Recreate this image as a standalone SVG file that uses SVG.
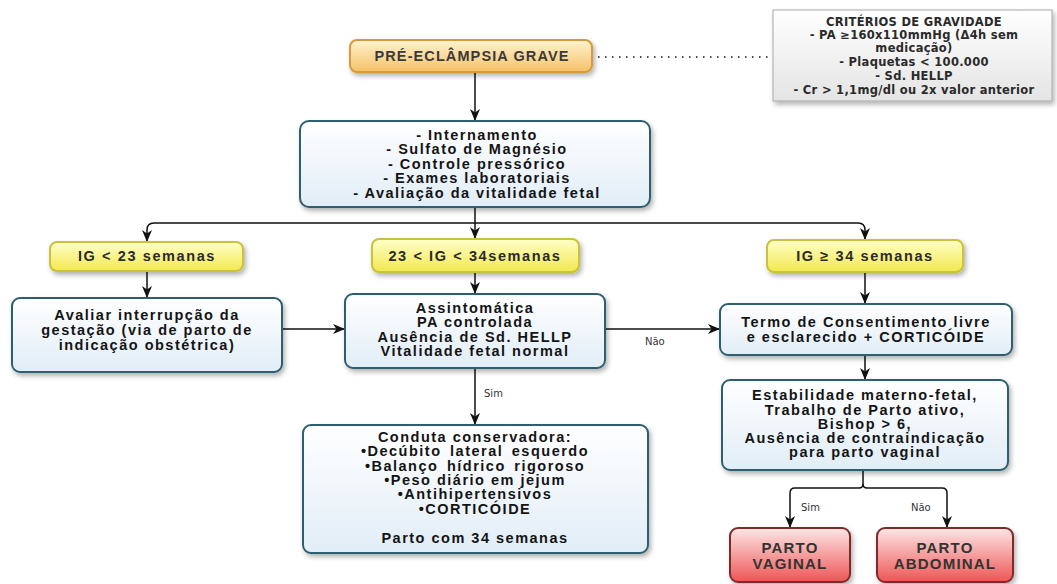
<svg xmlns="http://www.w3.org/2000/svg" width="1057" height="584" viewBox="0 0 1057 584">
<defs>
<linearGradient id="gBlue" x1="0" y1="0" x2="0" y2="1"><stop offset="0" stop-color="#ffffff"/><stop offset="1" stop-color="#e1edf7"/></linearGradient>
<linearGradient id="gYel" x1="0" y1="0" x2="0" y2="1"><stop offset="0" stop-color="#ffffc8"/><stop offset="1" stop-color="#f2e84f"/></linearGradient>
<linearGradient id="gOra" x1="0" y1="0" x2="0" y2="1"><stop offset="0" stop-color="#fff3cf"/><stop offset="1" stop-color="#f6c167"/></linearGradient>
<linearGradient id="gRed" x1="0" y1="0" x2="0" y2="1"><stop offset="0" stop-color="#fde6e6"/><stop offset="1" stop-color="#ee5555"/></linearGradient>
<linearGradient id="gGray" x1="0" y1="0" x2="0" y2="1"><stop offset="0" stop-color="#ffffff"/><stop offset="1" stop-color="#e4e4e4"/></linearGradient>
<filter id="sh" x="-10%" y="-10%" width="125%" height="140%"><feDropShadow dx="2" dy="3" stdDeviation="2.5" flood-color="#000" flood-opacity="0.3"/></filter>
<marker id="ah" viewBox="0 0 12 12" refX="11" refY="6" markerWidth="12" markerHeight="12" markerUnits="userSpaceOnUse" orient="auto"><path d="M0,1 L12,6 L0,11 L3.5,6 z" fill="#111"/></marker>
<style>
.blue{fill:url(#gBlue);stroke:#2e5f70;stroke-width:2}
.yel{fill:url(#gYel);stroke:#c9c23e;stroke-width:2}
.ora{fill:url(#gOra);stroke:#d49c3c;stroke-width:2}
.red{fill:url(#gRed);stroke:#7c2c2c;stroke-width:2}
.gray{fill:url(#gGray);stroke:#a8a8a8;stroke-width:1}
.t{font-family:"Liberation Sans",Arial,sans-serif;font-weight:bold;font-size:14.5px;letter-spacing:1.5px;fill:#141414;text-anchor:middle}
.ty{font-family:"Liberation Sans",Arial,sans-serif;font-weight:bold;font-size:14.5px;letter-spacing:1.6px;fill:#2a2a2a;text-anchor:middle}
.tr{font-family:"Liberation Sans",Arial,sans-serif;font-weight:bold;font-size:15px;letter-spacing:1.2px;fill:#333;text-anchor:middle}
.tc{font-family:"DejaVu Sans",Verdana,sans-serif;font-weight:bold;font-size:11.5px;letter-spacing:0.3px;fill:#2a2a2a;text-anchor:middle}
.lb{font-family:"DejaVu Sans",Verdana,sans-serif;font-size:10px;fill:#333}
.c{fill:none;stroke:#111;stroke-width:1.5}
</style>
</defs>
<rect width="1057" height="584" fill="#ffffff"/>

<g id="connectors">
<line class="c" x1="598" y1="57" x2="770" y2="57" stroke-dasharray="1.5 5.5" stroke-width="2.2" stroke="#333"/>
<path class="c" d="M475,72 V120" marker-end="url(#ah)"/>
<path class="c" d="M475,207 V238" marker-end="url(#ah)"/>
<path class="c" d="M475,223 H154 Q147,223 147,230 V241" marker-end="url(#ah)"/>
<path class="c" d="M475,223 H858 Q865,223 865,230 V239" marker-end="url(#ah)"/>
<path class="c" d="M147,272 V297" marker-end="url(#ah)"/>
<path class="c" d="M475,273 V293" marker-end="url(#ah)"/>
<path class="c" d="M865,273 V303" marker-end="url(#ah)"/>
<path class="c" d="M282,329 H344" marker-end="url(#ah)"/>
<path class="c" d="M606,329 H719" marker-end="url(#ah)"/>
<path class="c" d="M475,369 V424" marker-end="url(#ah)"/>
<path class="c" d="M865,356 V379" marker-end="url(#ah)"/>
<path class="c" d="M863,471 V484 Q863,488 859,488 H795 Q790,488 790,493 V527" marker-end="url(#ah)"/>
<path class="c" d="M863,484 Q863,488 867,488 H942 Q947,488 947,493 V527" marker-end="url(#ah)"/>
<text class="lb" x="645" y="345">Não</text>
<text class="lb" x="484" y="397">Sim</text>
<text class="lb" x="801" y="511">Sim</text>
<text class="lb" x="911" y="511">Não</text>
</g>

<g id="criterios">
<rect class="gray" x="773" y="10" width="279" height="91" filter="url(#sh)"/>
<text class="tc" x="914" y="26">CRITÉRIOS DE GRAVIDADE</text>
<text class="tc" x="914" y="39">- PA ≥160x110mmHg (Δ4h sem</text>
<text class="tc" x="914" y="52">medicação)</text>
<text class="tc" x="914" y="66">- Plaquetas &lt; 100.000</text>
<text class="tc" x="914" y="80">- Sd. HELLP</text>
<text class="tc" x="914" y="94">- Cr &gt; 1,1mg/dl ou 2x valor anterior</text>
</g>

<g id="pre">
<rect class="ora" x="350" y="40" width="242" height="32" rx="7" filter="url(#sh)"/>
<text class="ty" x="472" y="61" style="fill:#3a3a3a;letter-spacing:1.1px">PRÉ-ECLÂMPSIA GRAVE</text>
</g>

<g id="medidas">
<rect class="blue" x="300" y="121" width="350" height="86" rx="9" filter="url(#sh)"/>
<text class="t" x="477" y="140">- Internamento</text>
<text class="t" x="477" y="154">- Sulfato de Magnésio</text>
<text class="t" x="477" y="169">- Controle pressórico</text>
<text class="t" x="477" y="183">- Exames laboratoriais</text>
<text class="t" x="477" y="198">- Avaliação da vitalidade fetal</text>
</g>

<g id="ig23">
<rect class="yel" x="50" y="242" width="193" height="29" rx="7" filter="url(#sh)"/>
<text class="ty" x="147" y="261">IG &lt; 23 semanas</text>
</g>

<g id="ig23a34">
<rect class="yel" x="372" y="239" width="207" height="33" rx="7" filter="url(#sh)"/>
<text class="ty" x="475" y="261">23 &lt; IG &lt; 34semanas</text>
</g>

<g id="ig34">
<rect class="yel" x="767" y="240" width="196" height="32" rx="7" filter="url(#sh)"/>
<text class="ty" x="865" y="261">IG ≥ 34 semanas</text>
</g>

<g id="avaliar">
<rect class="blue" x="12" y="298" width="270" height="74" rx="8" filter="url(#sh)"/>
<text class="t" x="147" y="320">Avaliar interrupção da</text>
<text class="t" x="147" y="335">gestação (via de parto de</text>
<text class="t" x="147" y="350">indicação obstétrica)</text>
</g>

<g id="assintomatica">
<rect class="blue" x="345" y="294" width="260" height="74" rx="8" filter="url(#sh)"/>
<text class="t" x="475" y="313">Assintomática</text>
<text class="t" x="475" y="327">PA controlada</text>
<text class="t" x="475" y="342">Ausência de Sd. HELLP</text>
<text class="t" x="475" y="356">Vitalidade fetal normal</text>
</g>

<g id="termo">
<rect class="blue" x="720" y="304" width="292" height="51" rx="8" filter="url(#sh)"/>
<text class="t" x="866" y="327">Termo de Consentimento livre</text>
<text class="t" x="866" y="342">e esclarecido + CORTICÓIDE</text>
</g>

<g id="conduta">
<rect class="blue" x="303" y="425" width="345" height="128" rx="8" filter="url(#sh)"/>
<text class="t" x="475" y="442">Conduta conservadora:</text>
<text class="t" x="475" y="456" style="word-spacing:3px">•Decúbito lateral esquerdo</text>
<text class="t" x="475" y="471" style="word-spacing:3px">•Balanço hídrico rigoroso</text>
<text class="t" x="475" y="485">•Peso diário em jejum</text>
<text class="t" x="475" y="499">•Antihipertensivos</text>
<text class="t" x="475" y="514">•CORTICÓIDE</text>
<text class="t" x="475" y="543">Parto com 34 semanas</text>
</g>

<g id="estabilidade">
<rect class="blue" x="722" y="380" width="286" height="90" rx="8" filter="url(#sh)"/>
<text class="t" x="865" y="400">Estabilidade materno-fetal,</text>
<text class="t" x="865" y="415">Trabalho de Parto ativo,</text>
<text class="t" x="865" y="429">Bishop &gt; 6,</text>
<text class="t" x="865" y="443">Ausência de contraindicação</text>
<text class="t" x="865" y="457">para parto vaginal</text>
</g>

<g id="vaginal">
<rect class="red" x="730" y="528" width="120" height="54" rx="8" filter="url(#sh)"/>
<text class="tr" x="790" y="553">PARTO</text>
<text class="tr" x="790" y="569">VAGINAL</text>
</g>

<g id="abdominal">
<rect class="red" x="877" y="528" width="136" height="54" rx="8" filter="url(#sh)"/>
<text class="tr" x="945" y="553">PARTO</text>
<text class="tr" x="945" y="569">ABDOMINAL</text>
</g>
</svg>
